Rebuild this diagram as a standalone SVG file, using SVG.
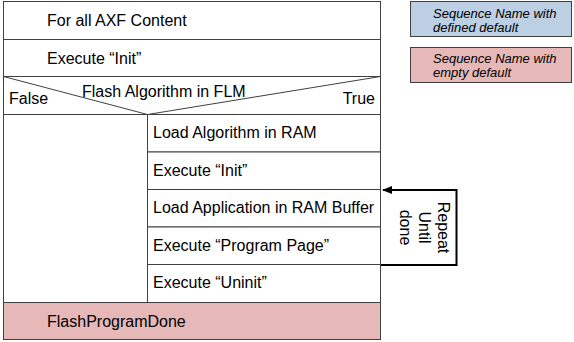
<svg xmlns="http://www.w3.org/2000/svg" width="574" height="342" viewBox="0 0 574 342">
<style>
.t{font-family:"Liberation Sans",Arial,sans-serif;font-size:16px;fill:#000}
.l{font-family:"Liberation Sans",Arial,sans-serif;font-size:13px;font-style:italic;fill:#000}
.b{fill:#fff;stroke:#404040;stroke-width:1}
.ln{stroke:#404040;stroke-width:1;fill:none}
</style>
<defs>
<marker id="ah" markerWidth="10" markerHeight="8" refX="9" refY="4" orient="auto" markerUnits="userSpaceOnUse">
<path d="M0,0 L10,4 L0,8 z" fill="#000"/>
</marker>
</defs>
<g id="legend-defined">
<rect x="410.5" y="1.5" width="161" height="35" fill="#bccfe3" stroke="#404040"/>
<text class="l" x="433" y="18">Sequence Name with</text>
<text class="l" x="433" y="32">defined default</text>
</g>
<g id="legend-empty">
<rect x="410.5" y="47.5" width="161" height="35" fill="#e6b8b7" stroke="#404040"/>
<text class="l" x="433" y="63">Sequence Name with</text>
<text class="l" x="433" y="77">empty default</text>
</g>
<g id="for-all">
<rect class="b" x="3.5" y="1.5" width="377" height="38"/>
<text class="t" x="47" y="26">For all AXF Content</text>
</g>
<g id="execute-init-outer">
<rect class="b" x="3.5" y="39.5" width="377" height="37"/>
<text class="t" x="47" y="64">Execute “Init”</text>
</g>
<g id="decision">
<rect class="b" x="3.5" y="76.5" width="377" height="38"/>
<path class="ln" d="M3.5,76.5 L147.5,114.5 L380.5,76.5"/>
<text class="t" x="82" y="97">Flash Algorithm in FLM</text>
<text class="t" x="9" y="104">False</text>
<text class="t" x="375" y="104" text-anchor="end">True</text>
</g>
<g id="false-branch">
<rect class="b" x="3.5" y="114.5" width="144" height="188"/>
</g>
<g id="load-algorithm">
<rect class="b" x="147.5" y="114.5" width="233" height="37.5"/>
<text class="t" x="153" y="138">Load Algorithm in RAM</text>
</g>
<g id="execute-init-inner">
<rect class="b" x="147.5" y="152" width="233" height="37.5"/>
<text class="t" x="153" y="175.5">Execute “Init”</text>
</g>
<g id="load-application">
<rect class="b" x="147.5" y="189.5" width="233" height="37.5"/>
<text class="t" x="153" y="213">Load Application in RAM Buffer</text>
</g>
<g id="program-page">
<rect class="b" x="147.5" y="227" width="233" height="37.5"/>
<text class="t" x="153" y="250.5">Execute “Program Page”</text>
</g>
<g id="uninit">
<rect class="b" x="147.5" y="264.5" width="233" height="38"/>
<text class="t" x="153" y="288">Execute “Uninit”</text>
</g>
<g id="flash-program-done">
<rect x="3.5" y="302.5" width="377" height="37" fill="#e6b8b7" stroke="#404040"/>
<text class="t" x="47" y="327">FlashProgramDone</text>
</g>
<g id="connectors">
<path d="M381,265 L456.5,265 L456.5,190 L383,190" fill="none" stroke="#000" stroke-width="2" marker-end="url(#ah)"/>
</g>
<g id="repeat-label">
<text class="t" transform="translate(438,227.5) rotate(90)" text-anchor="middle">Repeat</text>
<text class="t" transform="translate(419,227.5) rotate(90)" text-anchor="middle">Until</text>
<text class="t" transform="translate(400,227.5) rotate(90)" text-anchor="middle">done</text>
</g>
</svg>
